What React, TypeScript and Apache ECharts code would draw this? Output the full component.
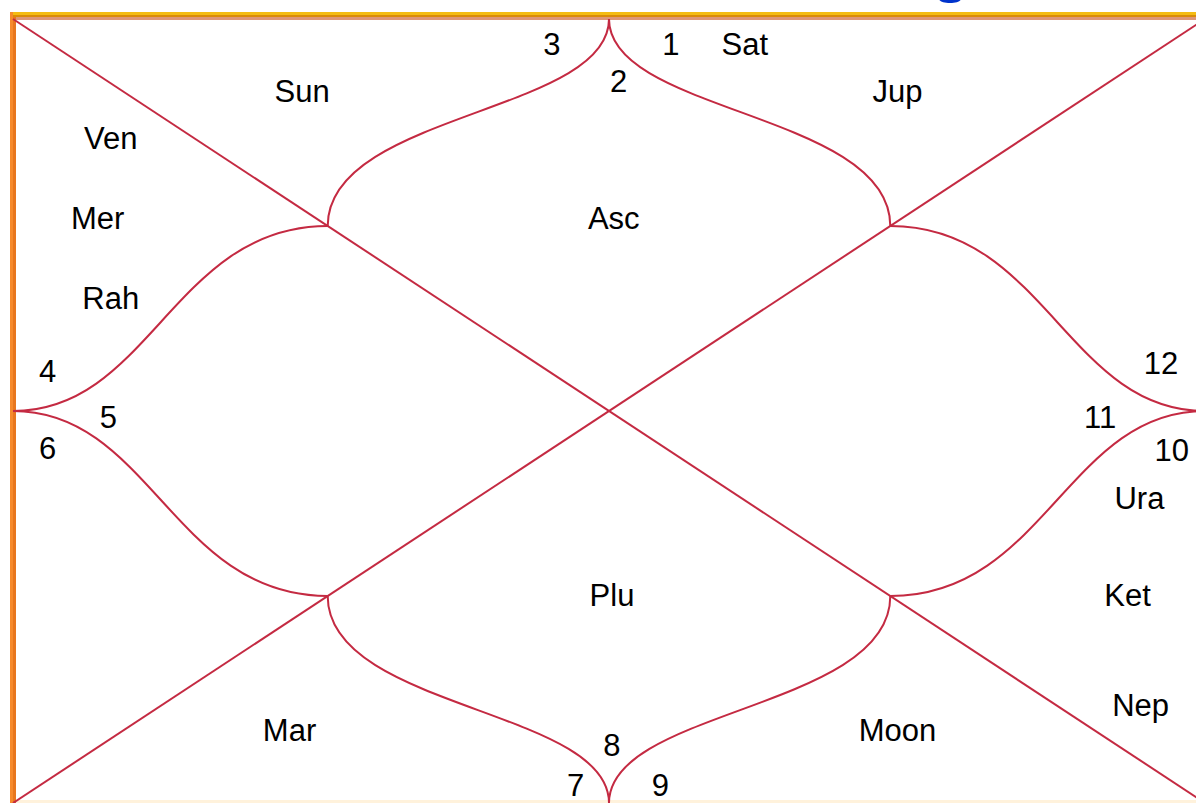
import React, { useEffect, useRef } from "react";
import * as echarts from "echarts";

// ---- data (chart units: frame spans 0..1 in x and y, y grows downward) ----
const houseLabels = ["1", "2", "3", "4", "5", "6", "7", "8", "9", "10", "11", "12"];
const houseX = [0.552, 0.508, 0.452, 0.029, 0.08, 0.029, 0.472, 0.5025, 0.543, 0.972, 0.912, 0.963];
const houseY = [0.032, 0.08, 0.032, 0.45, 0.508, 0.548, 0.978, 0.927, 0.978, 0.55, 0.508, 0.439];

const planetNames = ["Sat", "Sun", "Jup", "Ven", "Mer", "Asc", "Rah", "Ura", "Plu", "Ket", "Nep", "Mar", "Moon"];
const planetX = [0.614, 0.2425, 0.742, 0.082, 0.071, 0.504, 0.082, 0.945, 0.5025, 0.935, 0.946, 0.232, 0.742];
const planetY = [0.032, 0.092, 0.092, 0.153, 0.254, 0.254, 0.357, 0.612, 0.735, 0.735, 0.876, 0.907, 0.907];

// diagonals: [x1, y1, x2, y2]
const diagonals = [
  [0, 0, 1, 1],
  [0, 1, 1, 0],
];

// curved diamond segments: [x0, y0, cp1x, cp1y, cp2x, cp2y, x1, y1]
const curves = [
  [0, 0.5, 0.115, 0.5, 0.135, 0.264, 0.264, 0.264],
  [0.264, 0.264, 0.264, 0.12, 0.5, 0.12, 0.5, 0],
  [0.5, 0, 0.5, 0.12, 0.736, 0.12, 0.736, 0.264],
  [0.736, 0.264, 0.865, 0.264, 0.885, 0.5, 1, 0.5],
  [1, 0.5, 0.885, 0.5, 0.865, 0.736, 0.736, 0.736],
  [0.736, 0.736, 0.736, 0.88, 0.5, 0.88, 0.5, 1],
  [0.5, 1, 0.5, 0.88, 0.264, 0.88, 0.264, 0.736],
  [0.264, 0.736, 0.135, 0.736, 0.115, 0.5, 0, 0.5],
];

const LINE_COLOR = "#C42A42";
const FONT = '31px "Liberation Sans", Arial, sans-serif';

export default function App() {
  const ref = useRef<HTMLDivElement | null>(null);

  useEffect(() => {
    document.body.style.margin = "0";
    document.body.style.overflow = "hidden";
    if (!ref.current) return;
    const chart = echarts.init(ref.current, undefined, { renderer: "svg" });

    const labelNames = [...houseLabels, ...planetNames];
    const labelData = labelNames.map((n, i) => ({
      name: n,
      value: [
        i < houseLabels.length ? houseX[i] : planetX[i - houseLabels.length],
        i < houseLabels.length ? houseY[i] : planetY[i - houseLabels.length],
      ],
    }));

    const option: any = {
      animation: false,
      backgroundColor: "#ffffff",
      grid: { left: 13, right: 1, top: 19, bottom: 0, containLabel: false, outerBoundsMode: "none" },
      xAxis: { type: "value", min: 0, max: 1, show: false },
      yAxis: { type: "value", min: 0, max: 1, inverse: true, show: false },
      graphic: [
        { type: "rect", silent: true, shape: { x: 10, y: 12, width: 1196, height: 3 }, style: { fill: "#F4BC12" } },
        { type: "rect", silent: true, shape: { x: 10, y: 15, width: 1196, height: 2 }, style: { fill: "#D98C08" } },
        { type: "rect", silent: true, shape: { x: 13, y: 17, width: 1193, height: 3 }, style: { fill: "#DE9676" } },
        { type: "rect", silent: true, shape: { x: 10, y: 12, width: 3, height: 791 }, style: { fill: "#F68A2C" } },
        { type: "rect", silent: true, shape: { x: 13, y: 17, width: 3, height: 786 }, style: { fill: "#E8771E" } },
        { type: "rect", silent: true, shape: { x: 16, y: 800, width: 1190, height: 3 }, style: { fill: "#FFF2DC" } },
        { type: "ellipse", silent: true, shape: { cx: 950, cy: -1, rx: 11, ry: 4 }, style: { fill: "#0033CC" } },
      ],
      series: [
        {
          type: "custom",
          coordinateSystem: "cartesian2d",
          silent: true,
          data: diagonals,
          renderItem: (params: any, api: any) => {
            const a = api.coord([api.value(0), api.value(1)]);
            const b = api.coord([api.value(2), api.value(3)]);
            return {
              type: "line",
              shape: { x1: a[0], y1: a[1], x2: b[0], y2: b[1] },
              style: { stroke: LINE_COLOR, lineWidth: 2, fill: "none" },
            };
          },
        },
        {
          type: "custom",
          coordinateSystem: "cartesian2d",
          silent: true,
          data: curves,
          renderItem: (params: any, api: any) => {
            const p0 = api.coord([api.value(0), api.value(1)]);
            const c1 = api.coord([api.value(2), api.value(3)]);
            const c2 = api.coord([api.value(4), api.value(5)]);
            const p1 = api.coord([api.value(6), api.value(7)]);
            return {
              type: "bezierCurve",
              shape: {
                x1: p0[0], y1: p0[1],
                cpx1: c1[0], cpy1: c1[1],
                cpx2: c2[0], cpy2: c2[1],
                x2: p1[0], y2: p1[1],
              },
              style: { stroke: LINE_COLOR, lineWidth: 2, fill: "none" },
            };
          },
        },
        {
          type: "custom",
          coordinateSystem: "cartesian2d",
          silent: true,
          data: labelData,
          renderItem: (params: any, api: any) => {
            const p = api.coord([api.value(0), api.value(1)]);
            return {
              type: "text",
              x: p[0],
              y: p[1],
              style: {
                text: labelNames[params.dataIndex],
                font: FONT,
                fill: "#000000",
                align: "center",
                verticalAlign: "middle",
              },
            };
          },
        },
      ],
    };

    chart.setOption(option);
    return () => chart.dispose();
  }, []);

  return (
    <div
      ref={ref}
      style={{ position: "fixed", left: 0, top: 0, width: 1206, height: 803, background: "#ffffff" }}
    />
  );
}
